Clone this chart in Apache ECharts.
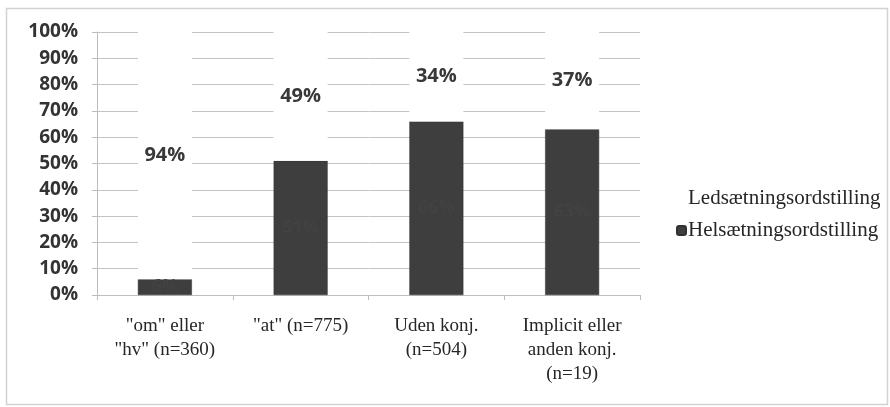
<!DOCTYPE html>
<html>
<head>
<meta charset="utf-8">
<script src="https://cdn.jsdelivr.net/npm/echarts@6/dist/echarts.min.js"></script>
<style>
  html, body { margin: 0; padding: 0; background: #fff; }
  #chart { width: 890px; height: 407px; }
</style>
</head>
<body>
<div id="chart"></div>
<script>
// Word order by conjunction type, shares of each group (percent)
const categories = ['"om" eller\n"hv" (n=360)', '"at" (n=775)', 'Uden konj.\n(n=504)', 'Implicit eller\nanden konj.\n(n=19)'];
const helsaetning = [6, 51, 66, 63];
const ledsaetning = [94, 49, 34, 37];
const yTicks = [0, 10, 20, 30, 40, 50, 60, 70, 80, 90, 100];

const serif = '"Liberation Serif", "DejaVu Serif", serif';
const sans = '"Open Sans", "Noto Sans", sans-serif';

const chart = echarts.init(document.getElementById('chart'), null, { renderer: 'canvas' });

chart.setOption({
  animation: false,
  backgroundColor: '#fff',
  graphic: [{
    type: 'rect',
    shape: { x: 6.5, y: 8.5, width: 881, height: 396 },
    style: { fill: 'none', stroke: '#d2d2d2', lineWidth: 1.5 },
    silent: true
  }],
  grid: { left: 97, right: 250, top: 32, bottom: 112, containLabel: false },
  legend: {
    orient: 'vertical',
    left: 671,
    top: 183,
    itemWidth: 9,
    itemHeight: 9,
    itemGap: 11,
    textStyle: { fontFamily: serif, fontSize: 21, color: '#262626', padding: [0, 0, 0, -3] },
    data: ['Ledsætningsordstilling', 'Helsætningsordstilling']
  },
  xAxis: {
    type: 'category',
    data: categories,
    axisLine: { lineStyle: { color: '#bdbdbd', width: 1 } },
    axisTick: { show: true, alignWithLabel: false, length: 5, lineStyle: { color: '#bdbdbd' } },
    axisLabel: {
      fontFamily: serif, fontSize: 19, color: '#262626', lineHeight: 24, margin: 19, interval: 0
    }
  },
  yAxis: {
    type: 'value',
    min: 0,
    max: 100,
    interval: 10,
    axisLine: { show: true, lineStyle: { color: '#bdbdbd' } },
    axisTick: { show: true, length: 5, lineStyle: { color: '#bdbdbd' } },
    splitLine: { lineStyle: { color: '#c4c4c4', width: 1 } },
    axisLabel: {
      fontFamily: sans, fontSize: 19, fontWeight: 'bold', color: '#333', margin: 19,
      formatter: v => yTicks.includes(v) ? v + '%' : ''
    }
  },
  series: [
    {
      name: 'Helsætningsordstilling',
      type: 'bar',
      stack: 'share',
      data: helsaetning,
      barWidth: 54,
      itemStyle: { color: '#3e3e3e', borderColor: '#303030', borderWidth: 0.5 },
      label: {
        show: true, position: 'inside', formatter: p => p.value + '%',
        fontFamily: sans, fontSize: 18, fontWeight: 'bold', color: '#424242'
      },
      z: 3
    },
    {
      name: 'Ledsætningsordstilling',
      type: 'bar',
      stack: 'share',
      data: ledsaetning,
      barWidth: 54,
      itemStyle: { color: '#ffffff' },
      label: {
        show: true, position: 'inside', formatter: p => p.value + '%',
        fontFamily: sans, fontSize: 20, fontWeight: 'bold', color: '#383838'
      },
      z: 3
    }
  ]
});
</script>
</body>
</html>
